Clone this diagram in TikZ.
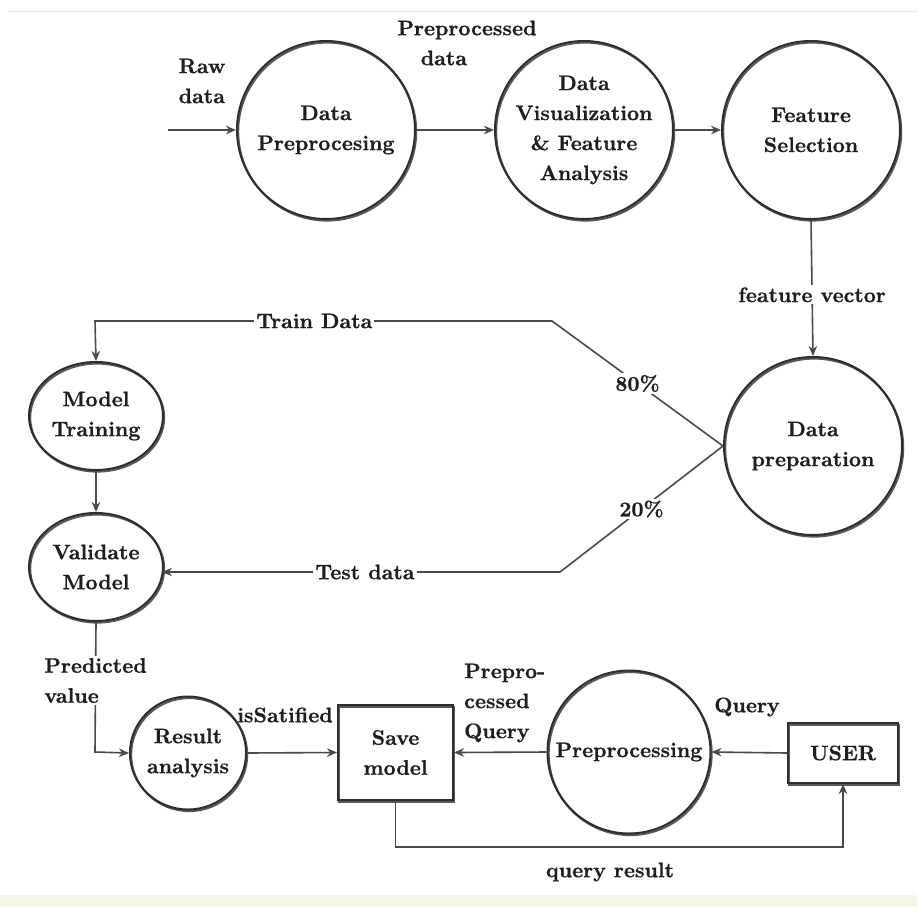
\documentclass[tikz,border=0pt]{standalone}
\usepackage{fontspec}
\newfontfamily\heavyfont{lmroman10-bold}[Extension=.otf, FakeBold=0.7]
\usetikzlibrary{arrows.meta,shapes.geometric}
\definecolor{linec}{HTML}{4A4A4A}
\definecolor{shapec}{HTML}{2E2E2E}
\definecolor{textc}{HTML}{1E1E1E}
\definecolor{bandc}{HTML}{F3F5E6}
\tikzset{
  every node/.style={font=\heavyfont\fontsize{21}{30}\selectfont, text=textc, inner sep=1pt},
  shade2/.style={preaction={draw=shapec!80, line width=2pt, transform canvas={shift={(1.2pt,-1.6pt)}}}},
  proc/.style={circle, draw=shapec, line width=2pt, minimum size=#1, align=center, inner sep=0pt, shade2},
  oval/.style={ellipse, draw=shapec, line width=2pt, minimum width=134pt, minimum height=108pt, align=center, inner sep=0pt, shade2},
  boxnode/.style={rectangle, draw=shapec, line width=2pt, align=center, shade2},
  conn/.style={draw=linec, line width=1.6pt},
  arr/.style={conn, -{Stealth[length=10pt,width=8.5pt]}},
  lbl/.style={fill=white, inner sep=2pt},
}
\begin{document}
\begin{tikzpicture}[x=1pt,y=-1pt]
\useasboundingbox (0,0) rectangle (917,907);
\fill[white] (0,0) rectangle (917,907);
\draw[black!10, line width=0.8pt] (8,11) -- (917,11);
\fill[bandc] (0,895) rectangle (917,907);

% nodes
\node[proc=178pt] (dp) at (326,130) {Data\\Preprocesing};
\node[proc=178pt] (dv) at (584,130) {Data\\Visualization\\\& Feature\\Analysis};
\node[proc=178pt] (fs) at (811,130) {Feature\\Selection};
\node[proc=178pt] (prep) at (813,446) {Data\\preparation};
\node[oval] (mt) at (96,416) {Model\\Training};
\node[oval] (vm) at (96,567) {Validate\\Model};
\node[ellipse, draw=shapec, line width=2pt, minimum width=103pt, minimum height=113pt, align=center, inner sep=0pt, shade2] (ra) at (188,753) {Result\\analysis};
\node[boxnode, minimum width=115pt, minimum height=95pt] (save) at (395.5,752.5) {Save\\model};
\node[proc=163pt] (pq) at (629,752) {Preprocessing};
\node[boxnode, minimum width=110pt, minimum height=60pt] (user) at (843,753) {USER};

% helper coordinates
\coordinate (raw) at (168,130);
\coordinate (trA) at (552,321);
\coordinate (trB) at (95,321);
\coordinate (teA) at (560,572);
\coordinate (teB) at (162,572);
\coordinate (pvA) at (95,752);
\coordinate (qrA) at (395.5,847);
\coordinate (qrB) at (843,847);

% connectors
\draw[arr] (raw) -- (dp.west);
\draw[arr] (dp.east) -- (dv.west);
\draw[arr] (dv.east) -- (fs.west);
\draw[arr] (fs.south) -- node[lbl, pos=0.55] (fvl) {feature vector} (prep.north);
\draw[arr] (prep.west) -- node[lbl, pos=0.5] (p80) {80\%} (trA) -- node[lbl, pos=0.52] (trl) {Train Data} (trB) -- (mt.north);
\draw[arr] (prep.west) -- node[lbl, pos=0.5] (p20) {20\%} (teA) -- node[lbl, pos=0.49] (tel) {Test data} (teB);
\draw[arr] (mt.south) -- (vm.north);
\draw[arr] (vm.south) -- node[lbl, align=left, pos=0.45] (pvl) {Predicted\\value} (pvA) -- (ra.west);
\draw[arr] (ra.east) -- (save.west);
\draw[arr] (user.west) -- (pq.east);
\draw[arr] (pq.west) -- (save.east);
\draw[arr] (save.south) -- (qrA) -- (qrB) -- (user.south);

% free labels
\node (rawl) at (202,81) [align=left] {Raw\\data};
\node (ppl) at (467,43) [align=center] {Preprocessed\\data\hspace*{2.2em}};
\node (isl) at (285,715) {isSatified};
\node (pql) [anchor=west, align=left] at (463,703) {Prepro-\\cessed\\Query};
\node (ql) at (747,707) {Query};
\node (qrl) at (610,872) {query result};
\end{tikzpicture}
\end{document}
